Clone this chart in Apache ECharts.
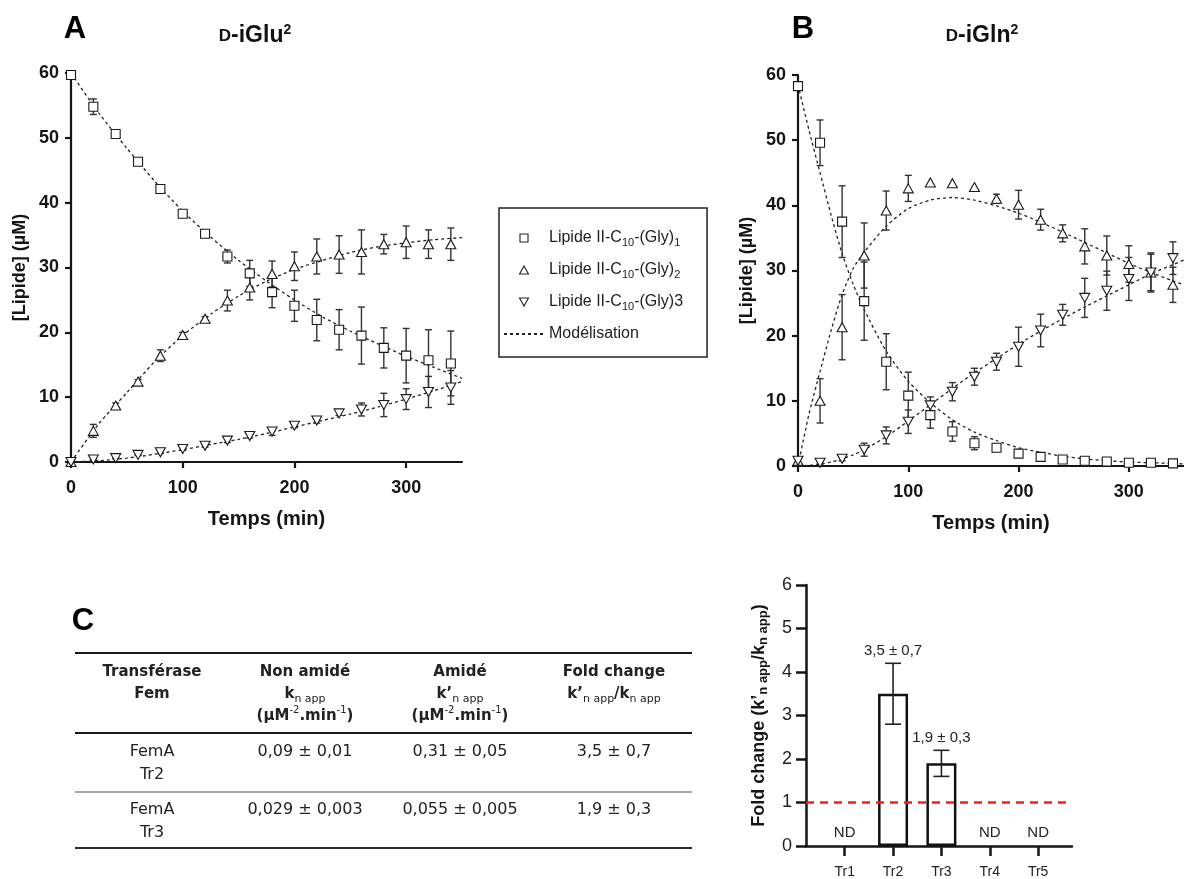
<!DOCTYPE html>
<html><head><meta charset="utf-8">
<script src="https://cdn.jsdelivr.net/npm/echarts@6/dist/echarts.min.js"></script>
<style>html,body{margin:0;padding:0;background:#fff}#c{width:1184px;height:879px}</style>
</head><body><div id="c"></div>
<script>
// ---------- data ----------
const timePts = [0,20,40,60,80,100,120,140,160,180,200,220,240,260,280,300,320,340];
// Panel A : D-iGlu2
const glu_g1     = [59.7,54.8,50.6,46.3,42.1,38.3,35.2,31.7,29.1,26.2,24.1,21.9,20.4,19.5,17.6,16.4,15.7,15.2];
const glu_g1_err = [0.3,1.2,0.6,0.4,0.4,0.4,0.4,1.0,2.0,2.4,2.4,3.2,3.1,4.4,3.1,4.2,4.7,5.0];
const glu_g2     = [0,4.8,8.7,12.4,16.4,19.6,22.1,24.9,26.9,29.0,30.2,31.7,32.0,32.4,33.6,33.9,33.6,33.6];
const glu_g2_err = [0,1.0,0.4,0.3,0.9,0.4,0.3,1.6,1.9,2.0,2.2,2.7,2.9,3.4,1.5,2.5,2.2,2.5];
const glu_g3     = [0,0.4,0.6,1.1,1.5,2.0,2.5,3.3,4.0,4.7,5.6,6.4,7.5,8.1,8.8,9.7,10.8,11.5];
const glu_g3_err = [0,0.1,0.1,0.1,0.2,0.2,0.2,0.3,0.3,0.6,0.3,0.4,0.3,1.0,1.8,1.6,2.4,2.6];
// Panel B : D-iGln2
const gln_g1     = [58.3,49.6,37.5,25.3,16.0,10.8,7.8,5.3,3.5,2.8,1.9,1.4,1.0,0.8,0.7,0.5,0.5,0.4];
const gln_g1_err = [0.3,3.5,5.5,6.0,4.3,3.6,2.0,1.5,1.0,0.6,0.3,0.3,0.2,0.2,0.1,0.1,0.1,0.1];
const gln_g2     = [0.8,10.0,21.3,32.3,39.2,42.6,43.5,43.4,42.8,41.0,40.1,37.8,35.7,33.7,32.3,31.0,29.7,27.8];
const gln_g2_err = [0,3.4,5.0,5.0,3.0,2.0,0,0,0,0.7,2.2,1.6,1.3,2.7,3.0,2.8,2.8,2.7];
const gln_g3     = [0.8,0.5,1.1,2.5,4.7,6.8,9.3,11.4,13.7,16.0,18.3,20.8,23.2,25.8,26.9,28.7,29.7,31.9];
const gln_g3_err = [0,0.2,0.3,1.0,1.3,1.8,1.3,1.4,1.3,1.3,3.0,2.5,1.6,3.0,3.0,3.3,3.0,2.5];
// model curves
const modelTimeA = [0,25,50,75,100,125,150,175,200,225,250,275,300,325,350];
const glu_m1 = [60,53.8,48.4,43.3,38.7,34.7,31.1,27.9,25.0,22.4,20.2,18.2,16.3,14.6,12.9];
const glu_m2 = [0,5.9,10.7,15.5,19.5,22.8,25.6,27.9,29.7,31.1,32.3,33.2,33.8,34.3,34.6];
const glu_m3 = [0,0.2,0.6,1.2,1.9,2.7,3.5,4.4,5.4,6.4,7.4,8.5,9.7,11.0,12.4];
const modelTimeB = [0,10,20,30,40,50,60,80,100,120,140,160,180,200,220,240,260,280,300,320,340,350];
const gln_m1 = [58.5,51.5,45.0,38.5,32.6,27.9,24.0,17.6,13.0,9.7,7.1,5.2,3.9,2.8,2.1,1.5,1.1,0.8,0.6,0.5,0.4,0.3];
const gln_m2 = [0,8.0,14.5,20.8,26.3,30.3,32.8,36.8,39.5,40.8,41.2,40.8,39.9,38.8,37.4,35.9,34.3,32.7,31.1,29.7,28.4,27.8];
const gln_m3 = [0,0.1,0.3,0.6,1.1,1.7,2.5,4.5,6.9,9.4,11.9,14.3,16.5,18.7,20.7,22.6,24.4,26.1,27.8,29.5,30.9,31.6];
const timeTicks = [0,100,200,300];
// Panel C table
const tabEnzyme  = ['Tr2','Tr3'];
const tabNonAmid = ['0,09 ± 0,01','0,029 ± 0,003'];
const tabAmid    = ['0,31 ± 0,05','0,055 ± 0,005'];
const tabFold    = ['3,5 ± 0,7','1,9 ± 0,3'];
// Panel D bar chart
const foldCats   = ['Tr1','Tr2','Tr3','Tr4','Tr5'];
const foldVals   = [null,3.5,1.9,null,null];
const foldErrs   = [null,0.7,0.3,null,null];
const foldLabels = ['ND','3,5 ± 0,7','1,9 ± 0,3','ND','ND'];
const foldTicks  = [1,2,3,4,5];
const refLevel   = 1;

const N1 = 'Lipide II-C10-(Gly)1', N2 = 'Lipide II-C10-(Gly)2', N3 = 'Lipide II-C10-(Gly)3', NM = 'Modélisation';

// ---------- helpers ----------
const FF = '"Liberation Sans", Arial, sans-serif';
const TF = '"DejaVu Sans", sans-serif';
const INK = '#151515';

function pairs(t, v){ return t.map((x,i)=>[x, v[i]]); }
function errRender(capHalf, color, lw){
  return function(params, api){
    const x = api.value(0), lo = api.value(1), hi = api.value(2);
    if (!(hi - lo > 0.05)) return null;
    const a = api.coord([x, hi]), b = api.coord([x, lo]);
    const st = {stroke: color, lineWidth: lw};
    return {type:'group', children:[
      {type:'line', shape:{x1:a[0],y1:a[1],x2:b[0],y2:b[1]}, style:st},
      {type:'line', shape:{x1:a[0]-capHalf,y1:a[1],x2:a[0]+capHalf,y2:a[1]}, style:st},
      {type:'line', shape:{x1:b[0]-capHalf,y1:b[1],x2:b[0]+capHalf,y2:b[1]}, style:st}
    ]};
  };
}
function errSeries(ai, t, v, e){
  return {type:'custom', xAxisIndex:ai, yAxisIndex:ai, silent:true, z:2,
    renderItem: errRender(3.5, '#333', 1.4),
    encode:{x:0, y:[1,2]},
    data: t.map((x,i)=>[x, v[i]-e[i], v[i]+e[i]])};
}
function modelSeries(ai, t, v){
  return {name:NM, type:'line', xAxisIndex:ai, yAxisIndex:ai, data:pairs(t,v), smooth:0.25,
    symbol:'none', showSymbol:false, silent:true, z:1,
    lineStyle:{color:'#222', width:1.3, type:[3,3]}, itemStyle:{color:'#222'}};
}
function markerSeries(ai, name, v, sym, size, rot){
  return {name, type:'scatter', xAxisIndex:ai, yAxisIndex:ai, data:pairs(timePts, v),
    symbol:sym, symbolSize:size, symbolRotate:rot||0, silent:true, z:3,
    itemStyle:{color:'#fff', borderColor:'#1a1a1a', borderWidth:1.1, opacity:1}};
}
function timeAxis(gi){
  return {gridIndex:gi, type:'value', min:0, max:350,
    axisLine:{show:true, onZero:false, lineStyle:{color:INK, width:2.2}},
    axisTick:{show:true, length:6, customValues:timeTicks, lineStyle:{color:INK, width:2.2}},
    axisLabel:{customValues:timeTicks, fontFamily:FF, fontWeight:'bold', fontSize:18, color:INK, margin:17},
    splitLine:{show:false},
    name:'Temps (min)', nameLocation:'middle', nameGap:47,
    nameTextStyle:{fontFamily:FF, fontWeight:'bold', fontSize:20, color:INK}};
}
function lipAxis(gi){
  return {gridIndex:gi, type:'value', min:0, max:60, interval:10,
    axisLine:{show:true, lineStyle:{color:INK, width:2.2}},
    axisTick:{show:true, length:6, lineStyle:{color:INK, width:2.2}},
    axisLabel:{fontFamily:FF, fontWeight:'bold', fontSize:18, color:INK, margin:12},
    splitLine:{show:false},
    name:'[Lipide] (µM)', nameLocation:'middle', nameGap:42,
    nameTextStyle:{fontFamily:FF, fontWeight:'bold', fontSize:18, color:INK}};
}

// ---------- graphic: panel labels, titles, table ----------
const g = [];
function T(x, y, text, st){
  g.push({type:'text', x, y, silent:true,
    style:Object.assign({text, textAlign:'center', textVerticalAlign:'middle', fill:'#000'}, st)});
}
T(75, 29, 'A', {fontFamily:FF, fontWeight:'bold', fontSize:31});
T(803, 29, 'B', {fontFamily:FF, fontWeight:'bold', fontSize:31});
T(83, 621, 'C', {fontFamily:FF, fontWeight:'bold', fontSize:31});
const titleRich = {
  sc:{fontFamily:FF, fontWeight:'bold', fontSize:17, lineHeight:26, fill:'#111'},
  t:{fontFamily:FF, fontWeight:'bold', fontSize:23, lineHeight:26, fill:'#111'},
  sup:{fontFamily:FF, fontWeight:'bold', fontSize:14, lineHeight:14, verticalAlign:'top', fill:'#111'}
};
T(255, 36, '{sc|D}{t|-iGlu}{sup|2}', {rich:titleRich});
T(982, 36, '{sc|D}{t|-iGln}{sup|2}', {rich:titleRich});

// table
const tabX = [152, 305, 460, 614];
const hb = {fontFamily:TF, fontWeight:'bold', fontSize:15, lineHeight:22, fill:'#222'};
const tRich = {
  b: hb,
  s: {fontFamily:TF, fontWeight:'normal', fontSize:11, lineHeight:12, verticalAlign:'bottom', fill:'#222'},
  p: {fontFamily:TF, fontWeight:'normal', fontSize:10, lineHeight:11, verticalAlign:'top', fill:'#222'}
};
const tabHead = [
  ['{b|Transférase}', '{b|Fem}'],
  ['{b|Non amidé}', '{b|k}{s|n app}', '{b|(µM}{p|-2}{b|.min}{p|-1}{b|)}'],
  ['{b|Amidé}', '{b|k’}{s|n app}', '{b|(µM}{p|-2}{b|.min}{p|-1}{b|)}'],
  ['{b|Fold change}', '{b|k’}{s|n app}{b|/k}{s|n app}']
];
const headY = [672, 694, 716];
tabHead.forEach((lines, c) => lines.forEach((l, k) => T(tabX[c], headY[k], l, {rich:tRich})));
const rowY = [752, 810];
const vSt = {fontFamily:TF, fontSize:16, fill:'#222'};
tabEnzyme.forEach((e, r) => {
  T(tabX[0], rowY[r], 'FemA', vSt);
  T(tabX[0], rowY[r] + 23, e, vSt);
  T(tabX[1], rowY[r], tabNonAmid[r], vSt);
  T(tabX[2], rowY[r], tabAmid[r], vSt);
  T(tabX[3], rowY[r], tabFold[r], vSt);
});
function HL(y, color, w){ g.push({type:'line', silent:true, shape:{x1:75,y1:y,x2:692,y2:y}, style:{stroke:color, lineWidth:w}}); }
HL(653, '#1a1a1a', 2.2); HL(733, '#1a1a1a', 2.2); HL(792, '#8a8a8a', 1.6); HL(848, '#2a2a2a', 2.2);

// ---------- legend formatting ----------
const legRich = {
  t:{fontFamily:FF, fontSize:16, lineHeight:20, color:'#222'},
  s:{fontFamily:FF, fontSize:11, lineHeight:12, verticalAlign:'bottom', color:'#222'}
};
const legText = {};
legText[N1] = '{t|Lipide II-C}{s|10}{t|-(Gly)}{s|1}';
legText[N2] = '{t|Lipide II-C}{s|10}{t|-(Gly)}{s|2}';
legText[N3] = '{t|Lipide II-C}{s|10}{t|-(Gly)3}';
legText[NM] = '{t|Modélisation}';
const legIconStyle = {color:'#fff', borderColor:'#222', borderWidth:1.1, opacity:1};

// ---------- option ----------
const option = {
  backgroundColor:'#fff',
  animation:false,
  grid:[
    {left:71, top:73, width:391, height:389},
    {left:798, top:75, width:391, height:391},
    {left:806, top:585, width:266, height:266}
  ],
  xAxis:[
    timeAxis(0), timeAxis(1),
    {gridIndex:2, type:'value', min:0.2, max:5.7,
      axisLine:{show:true, onZero:false, lineStyle:{color:INK, width:2.5}},
      axisTick:{show:true, length:10, customValues:foldTicks, lineStyle:{color:INK, width:2.5}},
      axisLabel:{customValues:foldTicks, formatter:v=>foldCats[Math.round(v)-1], fontFamily:FF, fontSize:14, color:'#222', margin:19},
      splitLine:{show:false}}
  ],
  yAxis:[
    lipAxis(0), lipAxis(1),
    {gridIndex:2, type:'value', min:0, max:6, interval:1,
      axisLine:{show:true, lineStyle:{color:INK, width:2.5}},
      axisTick:{show:true, length:10, lineStyle:{color:INK, width:2.5}},
      axisLabel:{fontFamily:FF, fontSize:18, color:'#222', margin:14},
      splitLine:{show:false},
      name:'{b|Fold change (k’}{s|n app}{b|/k}{s|n app}{b|)}', nameLocation:'middle', nameGap:36,
      nameTextStyle:{fontFamily:FF, fontWeight:'bold', fontSize:18, color:INK,
        rich:{b:{fontFamily:FF, fontWeight:'bold', fontSize:18, lineHeight:22, color:INK},
              s:{fontFamily:FF, fontWeight:'bold', fontSize:13, lineHeight:13, verticalAlign:'bottom', color:INK}}}}
  ],
  legend:{
    orient:'vertical', left:499, top:208, selectedMode:false,
    data:[
      {name:N1, icon:'path://M0,0L10,0L10,10L0,10Z', symbolRotate:0, itemStyle:legIconStyle},
      {name:N2, icon:'path://M5,0L10,9L0,9Z', symbolRotate:0, itemStyle:legIconStyle},
      {name:N3, icon:'path://M0,0L10,0L5,9Z', symbolRotate:0, itemStyle:legIconStyle},
      {name:NM, itemStyle:{opacity:0}}
    ],
    itemWidth:40, itemHeight:8, itemGap:12, symbolKeepAspect:true,
    padding:[20,24,13,4],
    borderColor:'#222', borderWidth:1.5, borderRadius:0,
    textStyle:{fontFamily:FF, fontSize:16, lineHeight:20, color:'#222', rich:legRich},
    formatter:name=>legText[name]
  },
  graphic:{elements:g},
  series:[
    modelSeries(0, modelTimeA, glu_m1), modelSeries(0, modelTimeA, glu_m2), modelSeries(0, modelTimeA, glu_m3),
    errSeries(0, timePts, glu_g1, glu_g1_err), errSeries(0, timePts, glu_g2, glu_g2_err), errSeries(0, timePts, glu_g3, glu_g3_err),
    markerSeries(0, N1, glu_g1, 'rect', 9), markerSeries(0, N2, glu_g2, 'triangle', [10,9]), markerSeries(0, N3, glu_g3, 'triangle', [10,9], 180),
    modelSeries(1, modelTimeB, gln_m1), modelSeries(1, modelTimeB, gln_m2), modelSeries(1, modelTimeB, gln_m3),
    errSeries(1, timePts, gln_g1, gln_g1_err), errSeries(1, timePts, gln_g2, gln_g2_err), errSeries(1, timePts, gln_g3, gln_g3_err),
    markerSeries(1, N1, gln_g1, 'rect', 9), markerSeries(1, N2, gln_g2, 'triangle', [10,9]), markerSeries(1, N3, gln_g3, 'triangle', [10,9], 180),
    {type:'bar', xAxisIndex:2, yAxisIndex:2, silent:true, barWidth:30,
      data: foldCats.map((c,i)=>[i+1, foldVals[i]]),
      itemStyle:{color:'#fff', borderColor:'#111', borderWidth:2.5},
      markLine:{silent:true, symbol:'none', label:{show:false},
        lineStyle:{color:'#ff1a1a', width:2.5, type:[8,6]}, data:[{yAxis:refLevel}]}},
    {type:'custom', xAxisIndex:2, yAxisIndex:2, silent:true, z:4,
      encode:{x:0, y:[1,2]},
      data: foldCats.map((c,i)=>[i+1, foldVals[i]==null?0:foldVals[i]-foldErrs[i], foldVals[i]==null?0:foldVals[i]+foldErrs[i]]),
      renderItem:function(params, api){
        const x = api.value(0), lo = api.value(1), hi = api.value(2);
        const kids = [];
        const top = api.coord([x, hi]);
        if (hi - lo > 0) {
          const b = api.coord([x, lo]); const st = {stroke:'#222', lineWidth:1.6};
          kids.push({type:'line', shape:{x1:top[0],y1:top[1],x2:b[0],y2:b[1]}, style:st});
          kids.push({type:'line', shape:{x1:top[0]-8,y1:top[1],x2:top[0]+8,y2:top[1]}, style:st});
          kids.push({type:'line', shape:{x1:b[0]-8,y1:b[1],x2:b[0]+8,y2:b[1]}, style:st});
        }
        kids.push({type:'text', x:top[0], y:top[1] - (hi - lo > 0 ? 12 : 13),
          style:{text:foldLabels[params.dataIndex], textAlign:'center', textVerticalAlign:'middle',
            fontFamily:FF, fontSize:15, fill:'#222'}});
        return {type:'group', children:kids};
      }}
  ]
};
const chart = echarts.init(document.getElementById('c'), null, {renderer:'canvas'});
chart.setOption(option);
</script>
</body></html>
